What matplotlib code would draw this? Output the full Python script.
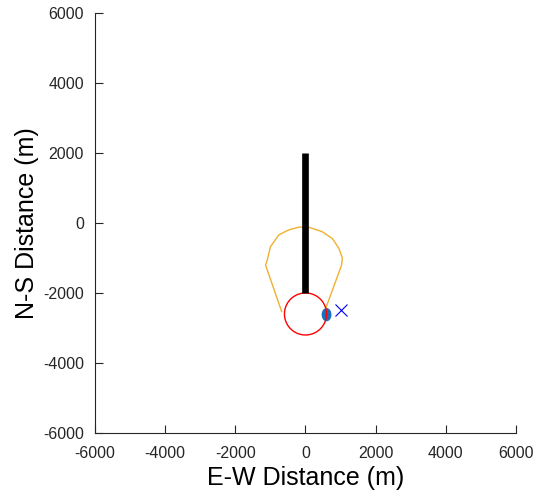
import numpy as np
import matplotlib
matplotlib.use("Agg")
import matplotlib.pyplot as plt
from matplotlib.patches import Ellipse

plt.rcParams['font.family'] = ['Liberation Sans', 'DejaVu Sans']
plt.rcParams['axes.unicode_minus'] = False

# Data
bar_x = [0, 0]
bar_y = [2000, -2000]

circle_center = (0, -2600)
circle_radius = 600

envelope_x = [-680, -1140, -1090, -1000, -760, -480, -190, 90, 475, 760, 950, 1050, 1030, 580]
envelope_y = [-2530, -1200, -1060, -680, -340, -200, -120, -120, -250, -440, -720, -1000, -1200, -2430]

blob_center = (600, -2620)
blob_size = (240, 340)

target_x = [1000]
target_y = [-2500]

xticks = [-6000, -4000, -2000, 0, 2000, 4000, 6000]
yticks = [-6000, -4000, -2000, 0, 2000, 4000, 6000]

fig = plt.figure(figsize=(5.45, 4.96), dpi=100)
ax = fig.add_axes([0.1743, 0.127, 0.7725, 0.847])

ax.plot(envelope_x, envelope_y, color='#f0b030', lw=1.0)
t = np.linspace(0, 2 * np.pi, 200)
ax.plot(circle_center[0] + circle_radius * np.cos(t),
        circle_center[1] + circle_radius * np.sin(t), color='#ff0000', lw=1.0)
ax.plot(bar_x, bar_y, color='black', lw=4.8, solid_capstyle='butt')
ax.add_patch(Ellipse(blob_center, blob_size[0], blob_size[1], color='#1a6fbf'))
ax.plot(target_x, target_y, 'x', color='#0000ff', ms=8, mew=0.8)

ax.set_xlim(-6000, 6000)
ax.set_ylim(-6000, 6000)
ax.set_xticks(xticks)
ax.set_yticks(yticks)
ax.spines['top'].set_visible(False)
ax.spines['right'].set_visible(False)
for s in ['left', 'bottom']:
    ax.spines[s].set_color('#262626')
    ax.spines[s].set_linewidth(0.8)
ax.tick_params(direction='in', length=6, width=0.8, color='#262626',
               labelsize=11.5, labelcolor='#262626')
ax.tick_params(axis='x', pad=9)
ax.tick_params(axis='y', pad=8)
ax.set_xlabel('E-W Distance (m)', fontsize=18, labelpad=4)
ax.set_ylabel('N-S Distance (m)', fontsize=18, labelpad=3)

fig.savefig('out.png', dpi=100)
